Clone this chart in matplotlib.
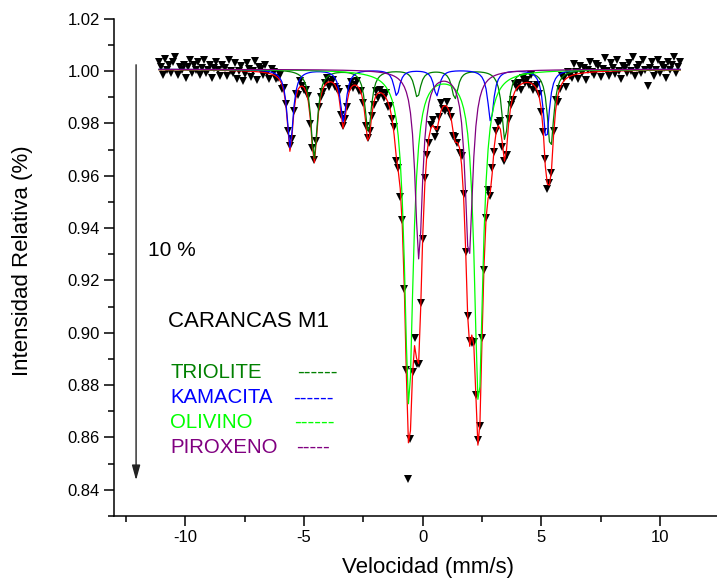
import matplotlib.pyplot as plt
import numpy as np
from matplotlib.ticker import MultipleLocator, FormatStrFormatter

plt.rcParams['font.family'] = ['Liberation Sans', 'DejaVu Sans']
plt.rcParams['axes.unicode_minus'] = False

# folded spectrum channels (mm/s)
v_first, v_last, n_channels = -11.1, 10.85, 256
baseline = 1.0007

# sub-spectra: line positions (mm/s), depths, half widths
triolite_pos = [-4.57, -2.29, -0.22, 1.36, 3.47, 5.39]
triolite_depth = [0.034, 0.024, 0.0105, 0.011, 0.027, 0.030]
triolite_hw = 0.16

kamacita_pos = [-5.58, -3.34, -1.09, 0.59, 2.87, 5.21]
kamacita_depth = [0.030, 0.020, 0.010, 0.010, 0.020, 0.027]
kamacita_hw = 0.15

olivino_pos = [-0.58, 2.36]
olivino_depth = [0.128, 0.128]
olivino_hw = 0.22

piroxeno_pos = [-0.16, 1.95]
piroxeno_depth = [0.072, 0.072]
piroxeno_hw = 0.19

# scatter of the measured points about the fit, in units of 0.001
residuals_milli = [
    3, 1, -2, 4, 0, 2, -1, 3, 5, -2, 1, 0, 2, -3, 1, 4,
    -1, 2, 0, 3, -2, 1, 4, -1, 0, 2, -3, 1, 3, 0, -2, 2,
    1, -2, 4, 0, -1, 3, -3, 0, 2, -4, -1, 3, 1, -2, 0, 4,
    -3, 2, 1, -1, 3, 0, -2, 2, 1, -1, 0, 2, -2, 1, 0, -1,
    2, -1, 0, 1, -2, 2, 0, -1, 1, 2, -2, 0, 1, -1, 2, 0,
    -1, 1, 2, -2, 0, 1, -1, 0, 2, -1, 1, 0, -2, 1, 2, -1,
    0, 2, -1, 1, 0, -2, 1, 2, 0, -1, 2, -2, 1, 0, -1, 2,
    -2, 1, 0, 3, -2, 1, -3, 2, 0, 2, -14, -3, 1, 3, -2, 0,
    2, -1, 3, 0, -2, 1, 2, -3, 0, 1, 3, -1, -2, 2, 0, 1,
    -1, 2, 0, -2, 3, 1, -1, 0, 2, -3, 1, 0, 2, -1, 1, -2,
    0, 3, -1, 2, -2, 0, 1, 3, -1, 0, -2, 2, 1, -1, 3, 0,
    1, -2, 2, 0, 1, -1, 3, -2, 0, 2, 1, -1, 0, 3, -2, 1,
    -1, 2, 4, -2, 0, 3, 1, -3, 2, 0, -1, 4, 1, -2, 3, 0,
    2, -3, 1, 4, 0, -1, 3, 2, -2, 1, 5, 0, -2, 3, 1, -1,
    4, 0, -3, 2, 1, -1, 3, 0, 5, -2, 1, 2, -1, 4, 0, -6,
    1, 3, -2, 0, 4, -1, 2, 1, -3, 3, 0, 2, 5, -1, 1, 3,
]


def absorption(v, pos, depth, hw):
    a = np.zeros_like(v)
    for p, d in zip(pos, depth):
        a += d / (1 + ((v - p) / hw) ** 2)
    return a


v = np.linspace(v_first, v_last, n_channels)
a_tri = absorption(v, triolite_pos, triolite_depth, triolite_hw)
a_kam = absorption(v, kamacita_pos, kamacita_depth, kamacita_hw)
a_oli = absorption(v, olivino_pos, olivino_depth, olivino_hw)
a_pir = absorption(v, piroxeno_pos, piroxeno_depth, piroxeno_hw)
total = baseline - a_tri - a_kam - a_oli - a_pir
measured = total + np.array(residuals_milli) / 1000.0

fig = plt.figure(figsize=(7.17, 5.83), dpi=100)
ax = fig.add_axes([0.159, 0.115, 0.841, 0.8527])

ax.plot(v, measured, 'v', color='black', markersize=5.5, markeredgewidth=0, zorder=2)
ax.plot(v, total, color='red', lw=0.9, zorder=3)
ax.plot(v, baseline - a_tri, color='#008000', lw=0.9, zorder=3)
ax.plot(v, baseline - a_kam, color='#0000ff', lw=0.9, zorder=3)
ax.plot(v, baseline - a_oli, color='#00ff00', lw=0.9, zorder=3)
ax.plot(v, baseline - a_pir, color='#800080', lw=0.9, zorder=3)

ax.set_xlim(-13, 12.4)
ax.set_ylim(0.83, 1.02)
ax.spines['top'].set_visible(False)
ax.spines['right'].set_visible(False)
for s in ('left', 'bottom'):
    ax.spines[s].set_linewidth(1.1)
ax.xaxis.set_major_locator(MultipleLocator(5))
ax.xaxis.set_minor_locator(MultipleLocator(2.5))
ax.yaxis.set_major_locator(MultipleLocator(0.02))
ax.yaxis.set_minor_locator(MultipleLocator(0.01))
ax.yaxis.set_major_formatter(FormatStrFormatter('%.2f'))
ax.tick_params(which='major', direction='out', length=7, width=1.1, labelsize=12, pad=3)
ax.tick_params(which='minor', direction='out', length=4, width=1.1)

fig.text(0.031, 0.553, 'Intensidad Relativa (%)', rotation=90, ha='center', va='center', fontsize=16)
fig.text(0.597, 0.027, 'Velocidad (mm/s)', ha='center', va='center', fontsize=16)

ax.annotate('', xy=(-12.07, 0.8426), xytext=(-12.07, 1.0035),
            arrowprops=dict(arrowstyle='-|>,head_length=0.9,head_width=0.25',
                            color='#222222', lw=1.0, mutation_scale=10))
ax.text(-11.56, 0.9315, '10 %', fontsize=15, ha='left', va='center')
ax.text(-10.71, 0.9044, 'CARANCAS M1', fontsize=16, ha='left', va='center')

legend_rows = [('TRIOLITE', '#008000', '------', -5.3, 0.8849),
               ('KAMACITA', '#0000ff', '------', -5.46, 0.8751),
               ('OLIVINO', '#00ff00', '------', -5.4, 0.8657),
               ('PIROXENO', '#800080', '-----', -5.33, 0.8562)]
for name, col, dash, xd, yy in legend_rows:
    ax.text(-10.63, yy, name, color=col, fontsize=14.7, ha='left', va='center')
    ax.text(xd, yy, dash, color=col, fontsize=14.7, ha='left', va='center')

fig.savefig('out.png', dpi=100)
